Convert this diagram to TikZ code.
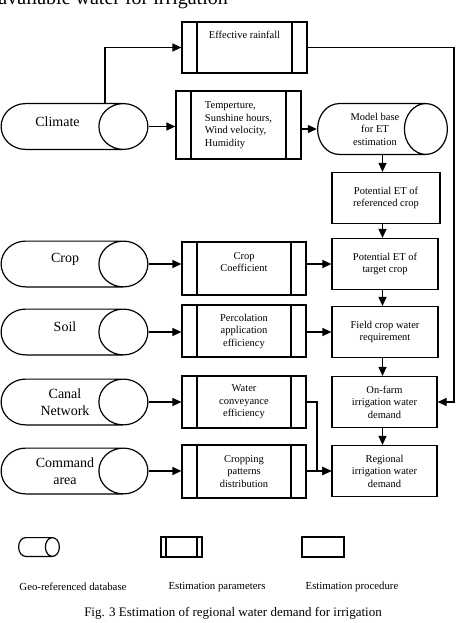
\documentclass[tikz,border=0pt]{standalone}
\usepackage{fontspec}
\setmainfont{Liberation Serif}
\usetikzlibrary{arrows.meta,calc}
\begin{document}
\begin{tikzpicture}[x=1pt,y=-1pt,
  every node/.style={font=\fontsize{10.5}{12.5}\selectfont},
  ln/.style={line width=1.2pt},
  arr/.style={ln,-{Triangle[length=9pt,width=8pt]}},
  proc/.style={draw,ln,rectangle,minimum width=106pt,minimum height=51pt,align=center,inner sep=2pt},
  parbox/.style={draw,ln,rectangle,align=center,inner sep=2pt,
    path picture={\draw[line width=1.2pt]
      ([xshift=#1]path picture bounding box.north west) -- ([xshift=#1]path picture bounding box.south west)
      ([xshift=-#1]path picture bounding box.north east) -- ([xshift=-#1]path picture bounding box.south east);}},
  parbox/.default=15pt,
  cyl/.style={path picture={\draw[line width=1.2pt]
      let \p1=(path picture bounding box.south west), \p2=(path picture bounding box.north east),
          \n1={(\y2-\y1)/2-0.6pt} in
      (\x1+0.6pt+#1,\y2-0.6pt) arc[start angle=90,end angle=270,x radius=#1,y radius=\n1*1pt]
      -- (\x2-0.6pt-#1,\y1+0.6pt)
      (\x1+0.6pt+#1,\y2-0.6pt) -- (\x2-0.6pt-#1,\y2-0.6pt)
      (\x2-0.6pt-#1,{(\y1+\y2)/2}) ellipse[x radius=#1,y radius=\n1*1pt];}},
  geodb/.style={rectangle,minimum width=148pt,minimum height=47pt,inner sep=0pt,cyl=24.5pt},
  dbtext/.style={align=center,font=\fontsize{14}{17}\selectfont},
  lbl/.style={font=\fontsize{10.8}{13}\selectfont}
]
\useasboundingbox (0,0) rectangle (474,623);

% partial heading
\node[anchor=base east,font=\fontsize{20}{24}\selectfont,inner sep=0pt] (head) at (228,5) {available water for irrigation};

% geo-referenced databases
\node[geodb,label={[name=climatet,dbtext,xshift=-17pt,yshift=5pt]center:Climate}] (climate) at (74.5,126.5) {};
\node[geodb,label={[name=cropt,dbtext,xshift=-9.5pt,yshift=5pt]center:Crop}] (crop) at (74.5,264) {};
\node[geodb,label={[name=soilt,dbtext,xshift=-9.5pt,yshift=5pt]center:Soil}] (soil) at (74.5,332) {};
\node[geodb,label={[name=canalt,dbtext,xshift=-9.5pt]center:Canal\\Network}] (canal) at (74.5,402) {};
\node[geodb,label={[name=commandt,dbtext,xshift=-9.5pt]center:Command\\area}] (command) at (74.5,471) {};
\node[geodb,minimum width=131pt,minimum height=52pt,cyl=21.5pt,
  label={[name=modelt,align=center,xshift=-7.5pt]center:Model base\\for ET\\estimation}] (model) at (382.5,129) {};

% estimation parameters
\node[parbox,minimum width=125pt,minimum height=51pt] (eff) at (244.5,47.5) {Effective rainfall\\\mbox{}\\\mbox{}};
\node[parbox,minimum width=125pt,minimum height=68pt,align=left] (temp) at (238.5,125) {Temperture,\\Sunshine hours,\\Wind velocity,\\Humidity};
\node[parbox,minimum width=124pt,minimum height=53pt] (coeff) at (244,268.5) {Crop\\Coefficient\\\mbox{}};
\node[parbox,minimum width=124pt,minimum height=52pt] (perc) at (244,331) {Percolation\\application\\efficiency};
\node[parbox,minimum width=124pt,minimum height=52pt] (water) at (244,402) {Water\\conveyance\\efficiency};
\node[parbox,minimum width=124pt,minimum height=53pt] (cropping) at (244,471.5) {Cropping\\patterns\\distribution};

% estimation procedures
\node[proc,minimum width=108pt] (ref) at (386,198) {Potential ET of\\referenced crop};
\node[proc] (target) at (385,264) {Potential ET of\\target crop};
\node[proc] (field) at (385,332) {Field crop water\\requirement};
\node[proc,minimum width=105pt] (onfarm) at (384.5,402) {On-farm\\irrigation water\\demand};
\node[proc,minimum width=105pt] (regional) at (384.5,471) {Regional\\irrigation water\\demand};

% bend coordinates
\coordinate (rl) at (454,0);
\coordinate (jn) at (317,0);

% connectors
\draw[arr] ([xshift=30.5pt]climate.north) |- (eff.west);
\draw[arr] (climate.east) -- (climate.east -| temp.west);
\draw[arr] (temp.east |- model.west) -- (model.west);
\draw[arr] (eff.east) -| (rl |- onfarm.east) -- (onfarm.east);
\draw[arr] (model.south) -- (model.south |- ref.north);
\draw[arr] (model.south |- ref.south) -- (model.south |- target.north);
\draw[arr] (model.south |- target.south) -- (model.south |- field.north);
\draw[arr] (model.south |- field.south) -- (model.south |- onfarm.north);
\draw[arr] (model.south |- onfarm.south) -- (model.south |- regional.north);
\draw[arr] (crop.east) -- (crop.east -| coeff.west);
\draw[arr] (coeff.east |- target.west) -- (target.west);
\draw[arr] (soil.east) -- (soil.east -| perc.west);
\draw[arr] (perc.east |- field.west) -- (field.west);
\draw[arr] (canal.east) -- (canal.east -| water.west);
\draw[arr] (water.east) -| (jn |- regional.west) -- (regional.west);
\draw[arr] (command.east) -- (command.east -| cropping.west);
\draw[arr] (cropping.east |- regional.west) -- (regional.west);

% legend
\node[geodb,minimum width=42pt,minimum height=20pt,cyl=7pt] (lg1) at (39,547) {};
\node[parbox=5pt,minimum width=41pt,minimum height=20pt] (lg2) at (181.5,547) {};
\node[draw,ln,minimum width=42pt,minimum height=20pt] (lg3) at (323,547) {};
\node[lbl] (lt1) at (73,587) {Geo-referenced database};
\node[lbl] (lt2) at (217,587) {Estimation parameters};
\node[lbl] (lt3) at (352,587) {Estimation procedure};
\node[font=\fontsize{13}{15}\selectfont] (caption) at (233,613) {Fig. 3 Estimation of regional water demand for irrigation};
\end{tikzpicture}
\end{document}
